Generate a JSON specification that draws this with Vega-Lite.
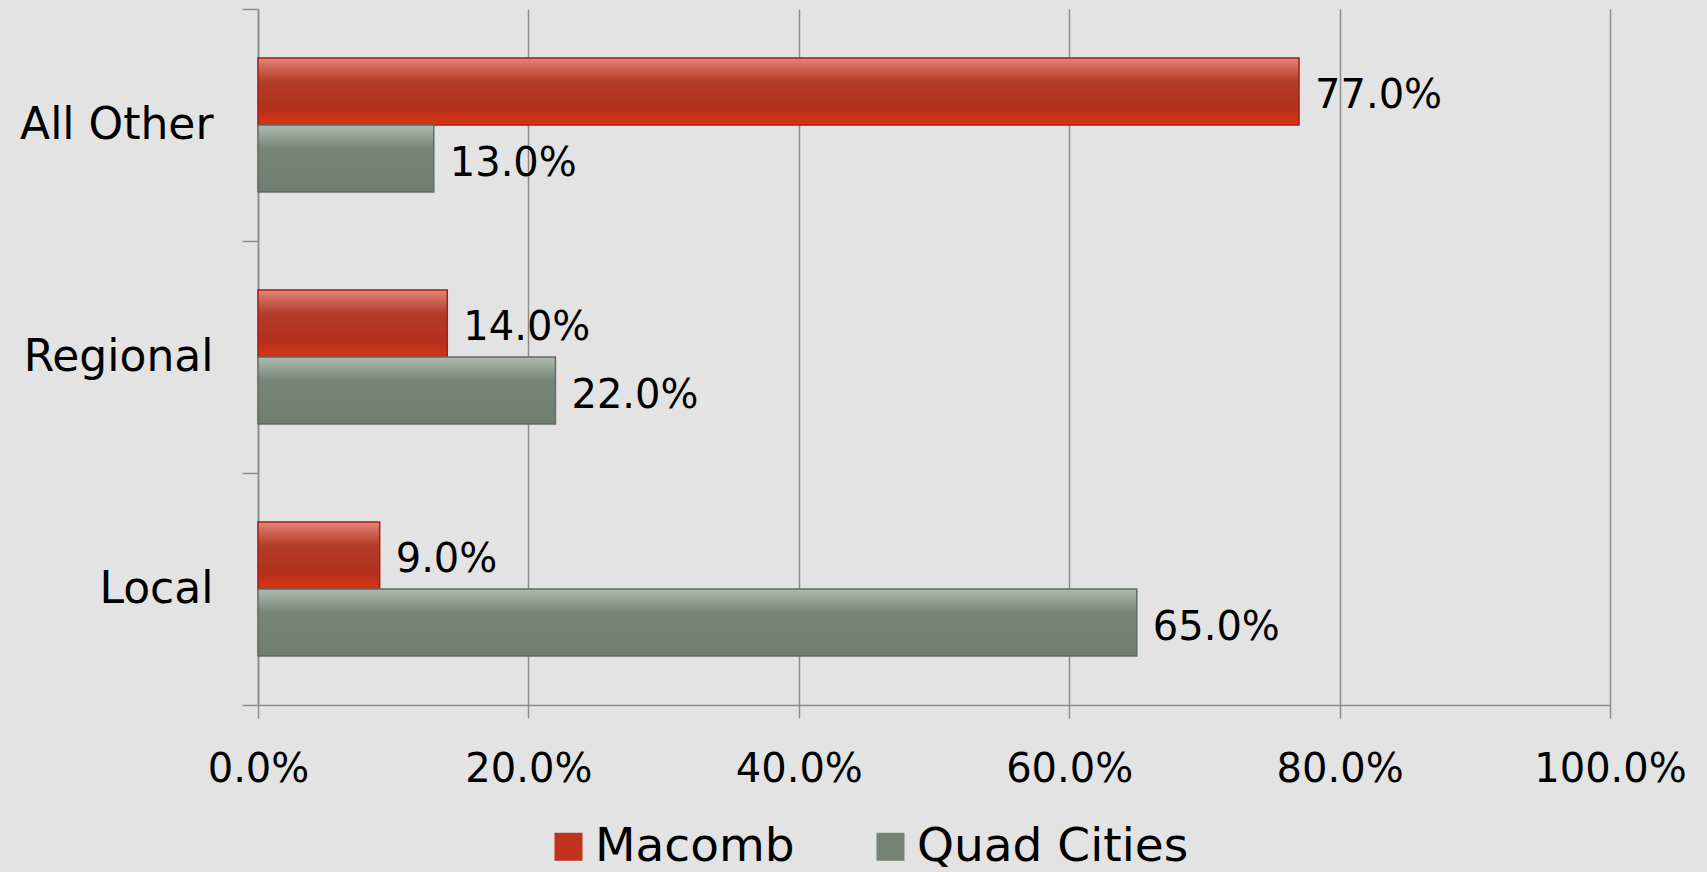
{
  "$schema": "https://vega.github.io/schema/vega-lite/v6.json",
  "autosize": "none",
  "width": 1352,
  "height": 696,
  "padding": {"left": 258, "top": 9, "right": 97, "bottom": 167},
  "background": "#e3e3e3",
  "config": {
    "view": {"stroke": null},
    "font": "DejaVu Sans",
    "axis": {"labelFont": "DejaVu Sans", "labelColor": "#000000", "domainColor": "#8c8c8c", "tickColor": "#8c8c8c", "gridColor": "#8c8c8c", "domainWidth": 1.5, "tickWidth": 1.5, "gridWidth": 1.5}
  },
  "data": {
    "values": [
      {"category": "All Other", "series": "Macomb", "value": 0.77},
      {"category": "All Other", "series": "Quad Cities", "value": 0.13},
      {"category": "Regional", "series": "Macomb", "value": 0.14},
      {"category": "Regional", "series": "Quad Cities", "value": 0.22},
      {"category": "Local", "series": "Macomb", "value": 0.09},
      {"category": "Local", "series": "Quad Cities", "value": 0.65}
    ]
  },
  "encoding": {
    "y": {
      "field": "category", "type": "nominal",
      "sort": ["All Other", "Regional", "Local"],
      "scale": {"domain": ["All Other", "Regional", "Local"], "paddingInner": 0, "paddingOuter": 0},
      "axis": {"title": null, "labelFontSize": 44, "labelPadding": 29, "labelLimit": 500, "tickSize": 16, "tickBand": "extent", "grid": false}
    },
    "yOffset": {"field": "series", "type": "nominal", "scale": {"domain": ["Macomb", "Quad Cities"], "paddingInner": 0, "paddingOuter": 0.73}},
    "x": {
      "field": "value", "type": "quantitative",
      "scale": {"domain": [0, 1], "nice": false},
      "axis": {"title": null, "format": ".1%", "values": [0, 0.2, 0.4, 0.6, 0.8, 1], "labelFontSize": 40, "tickSize": 13, "labelPadding": 31, "grid": true, "labelFlush": false}
    }
  },
  "layer": [
    {
      "mark": {"type": "bar"},
      "encoding": {
        "color": {
          "field": "series", "type": "nominal",
          "scale": {"domain": ["Macomb", "Quad Cities"], "range": ["#c0321d", "#758377"]},
          "legend": {"title": null, "orient": "none", "legendX": 287, "legendY": 814, "direction": "horizontal", "symbolType": "square", "symbolSize": 784, "symbolStrokeWidth": 0, "labelFontSize": 47, "labelColor": "#000000", "labelFont": "DejaVu Sans", "labelOffset": 3, "columnPadding": 72, "labelLimit": 400}
        }
      }
    },
    {
      "transform": [{"filter": "datum.series === 'Macomb'"}],
      "mark": {
        "type": "bar",
        "stroke": "#9e2412",
        "strokeWidth": 1.5,
        "fill": {"gradient": "linear", "x1": 0, "y1": 0, "x2": 0, "y2": 1, "stops": [
          {"offset": 0, "color": "#e4857a"},
          {"offset": 0.35, "color": "#b33c2a"},
          {"offset": 0.75, "color": "#b3301d"},
          {"offset": 1, "color": "#dc3210"}
        ]}
      },
      "encoding": {}
    },
    {
      "transform": [{"filter": "datum.series === 'Quad Cities'"}],
      "mark": {
        "type": "bar",
        "stroke": "#5f6d62",
        "strokeWidth": 1.5,
        "fill": {"gradient": "linear", "x1": 0, "y1": 0, "x2": 0, "y2": 1, "stops": [
          {"offset": 0, "color": "#aebaaf"},
          {"offset": 0.35, "color": "#778679"},
          {"offset": 1, "color": "#6f7d72"}
        ]}
      },
      "encoding": {}
    },
    {
      "mark": {"type": "text", "align": "left", "baseline": "middle", "dx": 16, "dy": 5, "fontSize": 40, "color": "#000000", "font": "DejaVu Sans"},
      "encoding": {"text": {"field": "value", "type": "quantitative", "format": ".1%"}}
    }
  ]
}
